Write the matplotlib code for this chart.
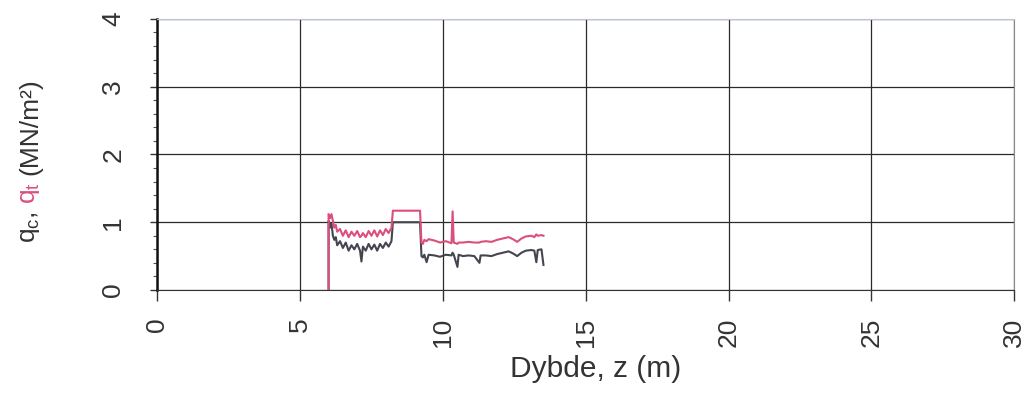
import matplotlib
matplotlib.use("Agg")
import matplotlib.pyplot as plt
from matplotlib.ticker import MultipleLocator

plt.rcParams['font.family'] = ['Liberation Sans', 'DejaVu Sans']
plt.rcParams['mathtext.fontset'] = 'custom'
plt.rcParams['mathtext.rm'] = 'Liberation Sans'
plt.rcParams['mathtext.it'] = 'Liberation Sans'
plt.rcParams['mathtext.default'] = 'regular'

# CPT sounding: depth (m), cone resistance qc and corrected qt (MN/m2)
depth = [6.00, 6.00, 6.05, 6.10, 6.15, 6.20, 6.25, 6.30, 6.40, 6.50,
         6.60, 6.70, 6.80, 6.90, 7.00, 7.10, 7.15, 7.20, 7.30, 7.40,
         7.50, 7.60, 7.70, 7.80, 7.90, 8.00, 8.10, 8.20, 8.25, 9.20,
         9.25, 9.30, 9.35, 9.43, 9.50, 9.70, 9.90, 10.10, 10.30, 10.34,
         10.38, 10.51, 10.55, 10.70, 10.90, 11.10, 11.28, 11.32, 11.50, 11.70,
         11.90, 12.10, 12.30, 12.45, 12.60, 12.75, 12.90, 13.10, 13.20, 13.27,
         13.32, 13.45, 13.52]
qt = [0.00, 1.12, 1.06, 1.12, 1.02, 0.92, 0.96, 0.86, 0.90, 0.80,
      0.88, 0.78, 0.86, 0.80, 0.87, 0.78, 0.80, 0.84, 0.78, 0.87,
      0.80, 0.88, 0.79, 0.88, 0.81, 0.90, 0.84, 0.92, 1.17, 1.17,
      0.70, 0.68, 0.74, 0.72, 0.75, 0.73, 0.70, 0.72, 0.69, 1.16,
      0.70, 0.68, 0.70, 0.70, 0.71, 0.70, 0.70, 0.71, 0.72, 0.71,
      0.74, 0.76, 0.78, 0.75, 0.71, 0.76, 0.79, 0.80, 0.78, 0.82,
      0.80, 0.81, 0.80]
qc = [0.00, 1.02, 0.92, 0.98, 0.80, 0.74, 0.78, 0.66, 0.72, 0.62,
      0.70, 0.58, 0.66, 0.60, 0.68, 0.58, 0.42, 0.64, 0.58, 0.68,
      0.60, 0.67, 0.58, 0.68, 0.62, 0.70, 0.64, 0.72, 1.00, 1.00,
      0.50, 0.48, 0.52, 0.41, 0.52, 0.51, 0.49, 0.52, 0.51, 0.55,
      0.52, 0.34, 0.52, 0.50, 0.51, 0.50, 0.40, 0.51, 0.51, 0.50,
      0.53, 0.55, 0.57, 0.54, 0.50, 0.55, 0.58, 0.59, 0.58, 0.41,
      0.59, 0.60, 0.37]

x_ticks = [0, 5, 10, 15, 20, 25, 30]
y_ticks = [0, 1, 2, 3, 4]

pink = '#dc4f7c'
dark = '#45454f'
txt = '#333333'

fig = plt.figure(figsize=(10.34, 3.94), dpi=100)
ax = fig.add_axes([0.152, 0.264, 0.829, 0.688])

ax.plot(depth, qc, color=dark, linewidth=1.5)
ax.plot(depth, qt, color=pink, linewidth=1.5)

ax.set_xlim(0, 30)
ax.set_ylim(0, 4)
ax.set_xticks(x_ticks)
ax.set_yticks(y_ticks)
ax.yaxis.set_minor_locator(MultipleLocator(0.2))
ax.grid(True, which='major', color='#2a2a2a', linewidth=0.9)

ax.tick_params(axis='x', direction='out', length=8, width=1, pad=12,
               labelsize=19, labelrotation=90, colors=txt)
ax.tick_params(axis='y', which='major', direction='out', length=5, width=1,
               pad=18, labelsize=19, labelrotation=90, colors=txt)
ax.tick_params(axis='y', which='minor', direction='out', length=3, width=0.8,
               colors='#555555')
for lbl in ax.get_yticklabels():
    lbl.set_va('center')

ax.spines['left'].set_linewidth(1.8)
ax.spines['left'].set_color('#111111')
ax.spines['bottom'].set_color('#333333')
ax.spines['top'].set_color('#bcc3dc')
ax.spines['right'].set_color('#888888')

ax.set_xlabel('Dybde, z (m)', fontsize=21.5, color=txt)
ax.xaxis.set_label_coords(0.512, -0.24)
ax.xaxis.label.set_va('top')

# y label in pieces so q_t can be coloured
fig.canvas.draw()
renderer = fig.canvas.get_renderer()
parts = [('q$_{c}$,', txt), ('q$_{t}$', pink), ('(MN/m²)', txt)]
y_px = 394 - 243
for text, col in parts:
    t = fig.text(30 / 1034, y_px / 394, text, rotation=90, fontsize=19,
                 color=col, ha='center', va='bottom')
    bb = t.get_window_extent(renderer)
    y_px += bb.height + 7

fig.savefig('out.png', dpi=100)
